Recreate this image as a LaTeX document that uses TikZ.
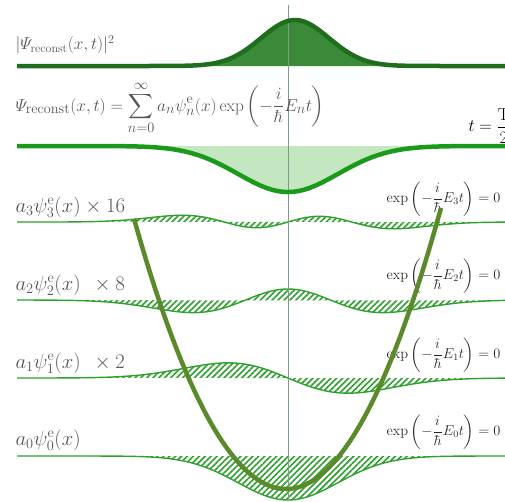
\documentclass[tikz,border=0pt]{standalone}
\usepackage{amsmath}
\usetikzlibrary{patterns.meta}
\definecolor{topline}{HTML}{1E6E1E}
\definecolor{topfill}{HTML}{3A8A3A}
\definecolor{sumline}{HTML}{1A9A1A}
\definecolor{sumfill}{HTML}{C4E6C0}
\definecolor{rowline}{HTML}{2EA02E}
\definecolor{wellline}{HTML}{5A8A2A}
\definecolor{axisline}{HTML}{7F9A86}
\definecolor{labelgrey}{HTML}{555555}
\tikzset{
  thickcurve/.style={line width=4.5pt},
  rowcurve/.style={rowline,line width=1.4pt},
  hatch/.style={pattern={Lines[angle=45,distance=4.2pt,line width=1.6pt]},pattern color=rowline},
  rowlabel/.style={anchor=west,text=labelgrey,font=\fontsize{22.5}{26}\selectfont},
  explabel/.style={anchor=east,text=black!85,font=\fontsize{14.5}{17}\selectfont},
}
\begin{document}
\begin{tikzpicture}[x=1pt,y=-1pt,
  declare function={
    hzero(\z)=exp(-0.5*\z*\z);
    hone(\z)=\z*exp(-0.5*\z*\z);
    htwo(\z)=(2*\z*\z-1)*exp(-0.5*\z*\z);
    hthree(\z)=(2*\z*\z*\z-3*\z)*exp(-0.5*\z*\z);
  }]
\useasboundingbox (0,0) rectangle (505,501);
\clip (0,0) rectangle (505,501);
% fills
\fill[topfill] plot[domain=150:440,samples=120] (\x,{66-46*hzero((\x-295)/34)}) -- cycle;
\fill[sumfill] plot[domain=120:460,samples=120] (\x,{146+46*hzero((\x-288)/50)}) -- cycle;
\fill[hatch] plot[domain=90:490,samples=160] (\x,{222+5*hthree((\x-288)/52)}) -- cycle;
\fill[hatch] plot[domain=60:510,samples=160] (\x,{300+11*htwo((\x-288)/60)}) -- cycle;
\fill[hatch] plot[domain=60:510,samples=160] (\x,{378+25*hone((\x-288)/60)}) -- cycle;
\fill[hatch] plot[domain=90:490,samples=160] (\x,{456+44*hzero((\x-288)/50)}) -- cycle;
% curves
\draw[rowcurve] plot[domain=17:510,samples=200] (\x,{222+5*hthree((\x-288)/52)});
\draw[rowcurve] plot[domain=17:510,samples=200] (\x,{300+11*htwo((\x-288)/60)});
\draw[rowcurve] plot[domain=17:510,samples=200] (\x,{378+25*hone((\x-288)/60)});
\draw[rowcurve] plot[domain=17:510,samples=200] (\x,{456+44*hzero((\x-288)/50)});
\draw[axisline,line width=0.8pt] (288,5) -- (288,501);
\draw[thickcurve,topline] plot[domain=17:510,samples=200] (\x,{66-46*hzero((\x-295)/34)});
\draw[thickcurve,sumline] plot[domain=17:510,samples=200] (\x,{146+46*hzero((\x-288)/50)});
% labels
\node[rowlabel,font=\fontsize{18.5}{22}\selectfont] (lblmod) at (12,45) {$|\varPsi_{\mathrm{reconst}}(x,t)|^2$};
\node[rowlabel,font=\fontsize{19}{23}\selectfont] (lblsum) at (12,108) {$\varPsi_{\mathrm{reconst}}(x,t)=\displaystyle\sum_{n=0}^{\infty}a_n\psi_n^{\mathrm{e}}(x)\exp\left(-\frac{i}{\hbar}E_nt\right)$};
\node[anchor=west,font=\fontsize{17}{20}\selectfont] (lbltime) at (465,126) {$t=\dfrac{\mathrm{T}}{2}$};
\node[rowlabel] (lbla3) at (12,207) {$a_3\psi_3^{\mathrm{e}}(x)\times 16$};
\node[rowlabel] (lbla2) at (12,285) {$a_2\psi_2^{\mathrm{e}}(x)\;\,\times 8$};
\node[rowlabel] (lbla1) at (12,363) {$a_1\psi_1^{\mathrm{e}}(x)\;\,\times 2$};
\node[rowlabel] (lbla0) at (12,440) {$a_0\psi_0^{\mathrm{e}}(x)$};
\node[explabel] (lble3) at (504,199) {$\exp\left(-\dfrac{i}{\hbar}E_3t\right)=0$};
\node[explabel] (lble2) at (504,276) {$\exp\left(-\dfrac{i}{\hbar}E_2t\right)=0$};
\node[explabel] (lble1) at (504,355) {$\exp\left(-\dfrac{i}{\hbar}E_1t\right)=0$};
\node[explabel] (lble0) at (504,432) {$\exp\left(-\dfrac{i}{\hbar}E_0t\right)=0$};
% potential well
\draw[wellline,line width=4.5pt] plot[domain=134:441,samples=120] (\x,{489-1.17*((\x-286)/10)^2});
\end{tikzpicture}
\end{document}
